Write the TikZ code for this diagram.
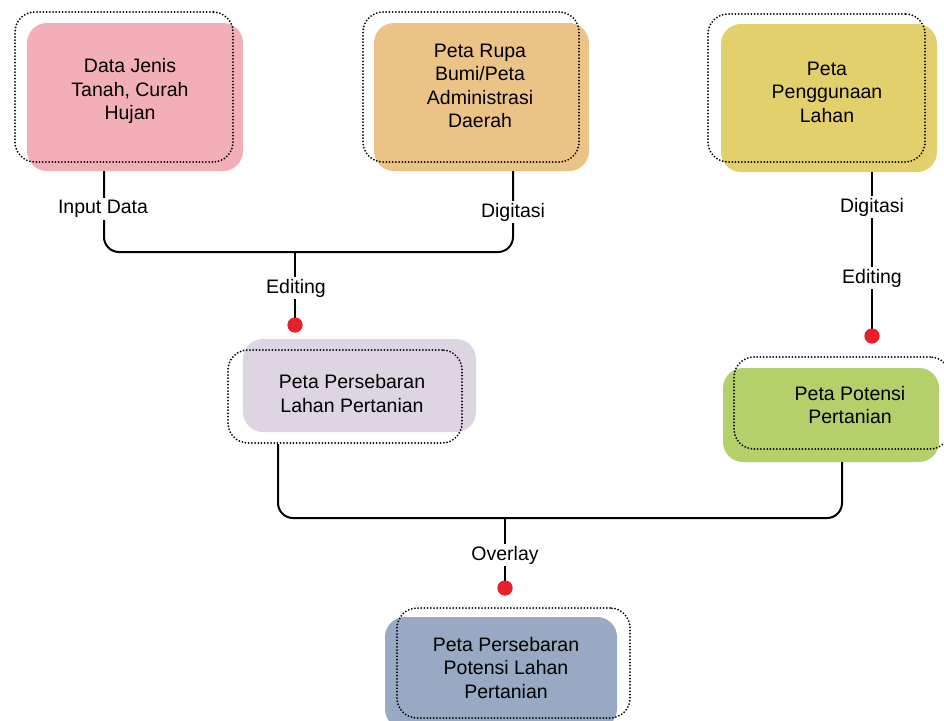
\documentclass[tikz,border=0pt]{standalone}
\usepackage{fontspec}
\setmainfont{Liberation Sans}
\usetikzlibrary{calc}
\definecolor{cpink}{HTML}{F2AFB8}
\definecolor{corange}{HTML}{EBC387}
\definecolor{cyellow}{HTML}{E1D06B}
\definecolor{clav}{HTML}{DDD5E1}
\definecolor{cgreen}{HTML}{B5CF6A}
\definecolor{cblue}{HTML}{97A9C3}
\definecolor{cred}{HTML}{E8202A}
\begin{document}
\begin{tikzpicture}[x=1pt,y=-1pt,
  fillbox/.style={rectangle,rounded corners=20,draw=none,inner sep=0pt},
  dotbox/.style={rectangle,rounded corners=20,draw=black,line width=2pt,line cap=round,dash pattern=on 0pt off 3.2pt,inner sep=0pt},
  txt/.style={align=center,font=\fontsize{19.5}{23.5}\selectfont,text=black,inner sep=0pt},
  lbl/.style={fill=white,font=\fontsize{19.5}{23}\selectfont,text=black,inner sep=2pt},
  conn/.style={draw=black,line width=2pt,rounded corners=15},
  reddot/.style={circle,fill=cred,draw=none,minimum size=15pt,inner sep=0pt}]
\useasboundingbox (0,0) rectangle (944,720);
% box 1
\node[fillbox,fill=cpink,minimum width=216pt,minimum height=148pt] (b1) at (135,97) {};
\node[dotbox,minimum width=218pt,minimum height=150pt] (o1) at (124,87) {};
\node[txt] (t1) at (130,91) {Data Jenis\\Tanah, Curah\\Hujan};
% box 2
\node[fillbox,fill=corange,minimum width=215pt,minimum height=148pt] (b2) at (481.5,97) {};
\node[dotbox,minimum width=216pt,minimum height=150pt] (o2) at (471,87) {};
\node[txt] (t2) at (480,86) {Peta Rupa\\Bumi/Peta\\Administrasi\\Daerah};
% box 3
\node[fillbox,fill=cyellow,minimum width=216pt,minimum height=148pt] (b3) at (829,98) {};
\node[dotbox,minimum width=217pt,minimum height=148pt] (o3) at (816.5,88) {};
\node[txt] (t3) at (827,92) {Peta\\Penggunaan\\Lahan};
% box 4
\node[fillbox,fill=clav,minimum width=233pt,minimum height=93pt] (b4) at (359.5,385.5) {};
\node[dotbox,minimum width=234pt,minimum height=93pt] (o4) at (345,396.5) {};
\node[txt] (t4) at (352,393.5) {Peta Persebaran\\Lahan Pertanian};
% box 5
\node[fillbox,fill=cgreen,minimum width=216pt,minimum height=94pt] (b5) at (831,415) {};
\node[dotbox,minimum width=216pt,minimum height=92pt] (o5) at (842,403) {};
\node[txt] (t5) at (850,405) {Peta Potensi\\Pertanian};
% box 6
\node[fillbox,fill=cblue,minimum width=232pt,minimum height=112pt] (b6) at (501,673) {};
\node[dotbox,minimum width=233pt,minimum height=110pt] (o6) at (513.5,663) {};
\node[txt] (t6) at (506,668) {Peta Persebaran\\Potensi Lahan\\Pertanian};
% junctions
\coordinate (j1) at (295,252);
\coordinate (j2) at (505,518);
\node[reddot] (d1) at (295,325) {};
\node[reddot] (d2) at (872,336) {};
\node[reddot] (d3) at (505,588) {};
% connectors
\draw[conn] ([xshift=-31]b1.south) |- (j1) -| ([xshift=31.5]b2.south);
\draw[conn] (j1) -- (d1.center);
\draw[conn] ([xshift=43]b3.south) -- (d2.center);
\draw[conn] ([xshift=-67]o4.south) |- (j2) -| ([xshift=11]b5.south);
\draw[conn] (j2) -- (d3.center);
\node[reddot] at (d1) {};
\node[reddot] at (d2) {};
\node[reddot] at (d3) {};
% labels
\node[lbl] (l1) at (103,209) {Input Data};
\node[lbl] (l2) at (513,212) {Digitasi};
\node[lbl] (l3) at (296,288) {Editing};
\node[lbl] (l4) at (872,207) {Digitasi};
\node[lbl] (l5) at (872,278) {Editing};
\node[lbl] (l6) at (505,555) {Overlay};
\end{tikzpicture}
\end{document}
